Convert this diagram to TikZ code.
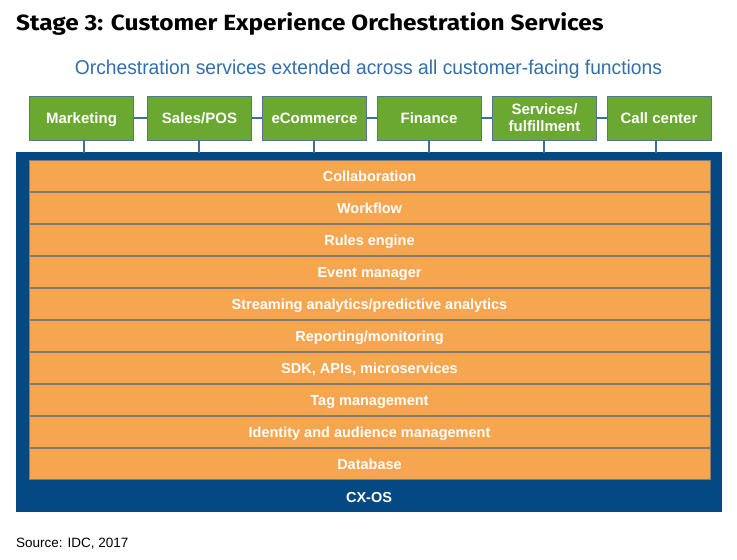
\documentclass[tikz,border=0pt]{standalone}
\usepackage{fontspec}
\setmainfont{Liberation Sans}
\newfontfamily\titlefont{Fira Sans}
\definecolor{cxblue}{RGB}{4,73,130}
\definecolor{subblue}{RGB}{52,110,170}
\definecolor{boxgreen}{RGB}{106,168,50}
\definecolor{boxedge}{RGB}{80,120,150}
\definecolor{barorange}{RGB}{247,166,80}
\definecolor{baredge}{RGB}{130,125,110}
\definecolor{linkblue}{RGB}{60,110,160}
\tikzset{
  func/.style={draw=boxedge, line width=0.8pt, fill=boxgreen, minimum width=104pt, minimum height=44pt,
    inner sep=0pt, align=center, text=white, font=\bfseries\fontsize{15}{17}\selectfont},
  func1/.style={func, text height=10.8pt, text depth=0pt},
  layer/.style={draw=baredge, line width=1pt, fill=barorange, minimum width=681pt, minimum height=31pt,
    inner sep=0pt, text=white, text height=10.4pt, text depth=0pt, font=\bfseries\fontsize{14.5}{16}\selectfont},
  link/.style={draw=linkblue, line width=2pt}
}
\begin{document}
\begin{tikzpicture}[x=1pt,y=-1pt]
\useasboundingbox[fill=white] (0,0) rectangle (737,560);
% title
\node[anchor=base west, inner sep=0pt, font=\titlefont\bfseries\fontsize{22}{24}\selectfont] (title) at (16,30) {\scalebox{1.11}[1]{Stage 3: Customer Experience Orchestration Services}};
\node[anchor=base, inner sep=0pt, text=subblue, font=\fontsize{20}{22}\selectfont] (sub) at (368.5,74) {\scalebox{0.962}[1]{Orchestration services extended across all customer-facing functions}};
% frame
\node[fill=cxblue, draw=none, minimum width=706pt, minimum height=360pt, inner sep=0pt, anchor=north west] (frame) at (16,152) {};
% layers
\foreach \t [count=\i] in {Collaboration,Workflow,Rules engine,Event manager,Streaming analytics/predictive analytics,Reporting/monitoring,{SDK, APIs, microservices},Tag management,Identity and audience management,Database}{
  \node[layer] (L\i) at (369.5,{144+32*\i}) {\t};
}
\node[text=white, text height=10.4pt, text depth=0pt, font=\bfseries\fontsize{14.5}{16}\selectfont, inner sep=0pt] (cxos) at (369,497) {CX-OS};
% function boxes
\node[func1] (f1) at (81.5,118) {Marketing};
\node[func1] (f2) at (199.5,118) {Sales/POS};
\node[func1] (f3) at (314.5,118) {eCommerce};
\node[func1] (f4) at (429,118) {Finance};
\node[func] (f5) at (544.5,118) {Services/\\fulfillment};
\node[func1] (f6) at (659,118) {Call center};
% links
\foreach \a/\b in {f1/f2,f2/f3,f3/f4,f4/f5,f5/f6}{
  \draw[link] (\a.east) -- (\b.west);
}
\foreach \i/\x in {1/84,2/199,3/314,4/429,5/544,6/656}{
  \coordinate (t\i) at (\x,152.5);
  \draw[link] (f\i.south -| t\i) -- (t\i);
}
\node[anchor=base west, inner sep=0pt, font=\fontsize{13.5}{15}\selectfont] (src) at (16,547) {Source: IDC, 2017};
\end{tikzpicture}
\end{document}
